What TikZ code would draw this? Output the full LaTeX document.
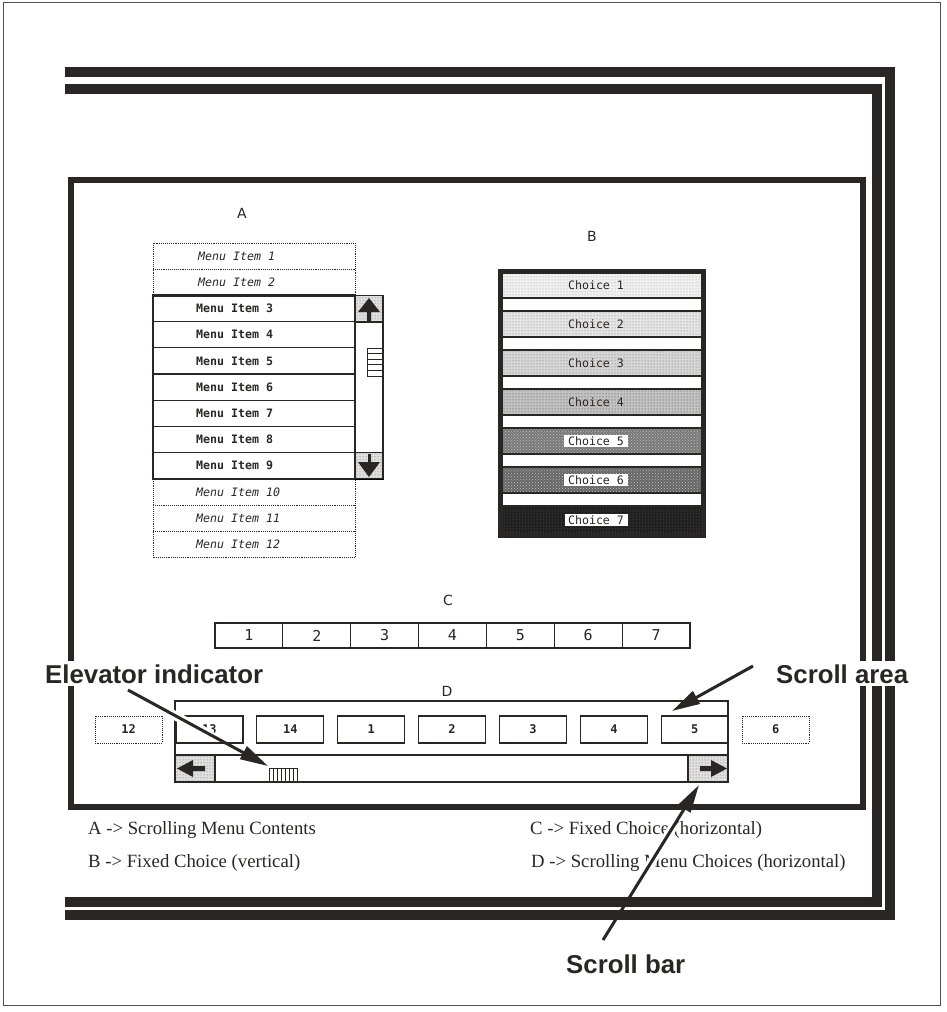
\documentclass[tikz,border=0pt]{standalone}
\usepackage{fontspec}
\setmainfont{Liberation Serif}
\newfontfamily\labsans{Liberation Sans}
\newfontfamily\pixmono{DejaVu Sans Mono}
\newfontfamily\letsans{DejaVu Sans}
\usetikzlibrary{arrows.meta,patterns,calc}
\definecolor{ink}{RGB}{42,38,38}
\begin{document}
\begin{tikzpicture}[x=1pt,y=-1pt,
  bar/.style={ink, line width=10pt, line join=miter},
  thinline/.style={ink, line width=1.2pt},
  thickline/.style={ink, line width=2.4pt},
  dotline/.style={ink, line width=0.9pt, densely dotted},
  stip/.style={fill=black!12, postaction={pattern=dots, pattern color=black!60}},
  annot/.style={ink, line width=3pt, -{Triangle[length=28pt,width=14pt]}},
  halo/.style={white, line width=9pt},
  callout/.style={text=ink, font=\labsans\bfseries\fontsize{25.8}{28}\selectfont, fill=white, inner sep=3pt, anchor=base west},
  legend/.style={text=ink, font=\fontsize{18.7}{20}\selectfont, inner sep=0pt, anchor=base west},
  letter/.style={text=ink, font=\letsans\fontsize{14}{16}\selectfont, inner sep=0pt},
  miroman/.style={text=ink, font=\pixmono\bfseries\fontsize{11.6}{13}\selectfont, inner sep=0pt, anchor=west},
  miital/.style={text=ink, font=\pixmono\itshape\fontsize{11.6}{13}\selectfont, inner sep=0pt, anchor=west},
  choicefont/.style={text=ink, font=\pixmono\fontsize{11.6}{13}\selectfont, inner xsep=4pt, inner ysep=2pt},
  cnum/.style={text=ink, font=\pixmono\fontsize{15}{17}\selectfont, inner sep=0pt},
  dnum/.style={text=ink, font=\pixmono\bfseries\fontsize{12}{14}\selectfont, inner sep=0pt}
]
\useasboundingbox (0,0) rectangle (946,1012);
\fill[white] (0,0) rectangle (946,1012);

% thin outer frame
\draw[ink!80, line width=1pt] (3,2) rectangle (940,1005);

% heavy frame bars
\draw[bar] (65,72) -- (890,72) -- (890,915) -- (65,915);
\draw[bar] (65,89) -- (877,89) -- (877,902) -- (65,902);

% inner window
\draw[ink, line width=6pt] (71,180) rectangle (863,807);

% ---------------- A ----------------
\node[letter] (labA) at (242,213) {A};
\draw[dotline] (153,243) rectangle (355,295.4);
\draw[dotline] (153,269.2) -- (355,269.2);
\draw[dotline] (153,478.8) rectangle (355,557.4);
\draw[dotline] (153,505) -- (355,505);
\draw[dotline] (153,531.2) -- (355,531.2);
\foreach \yy in {321.6,347.8,374,400.2,426.4,452.6}
  \draw[thinline] (153,\yy) -- (355,\yy);
\draw[thickline] (153,295.4) rectangle (355,478.8);
% scroll bar of A
\draw[stip] (355,295.4) rectangle (383,322);
\draw[stip] (355,452.6) rectangle (383,478.8);
\draw[thinline] (355,295.4) rectangle (383,478.8);
\draw[thinline] (355,322) -- (383,322);
\draw[thinline] (355,452.6) -- (383,452.6);
\fill[ink] (369,298) -- (380,312) -- (371,312) -- (371,321) -- (367,321) -- (367,312) -- (358,312) -- cycle;
\fill[ink] (368,453.5) rectangle (370.5,462);
\fill[ink] (358,462) -- (380,462) -- (369,477) -- cycle;
% elevator of A
\draw[ink, line width=1pt, fill=white] (367,348) rectangle (382,376);
\foreach \yy in {353.6,359.2,364.8,370.4}
  \draw[ink, line width=1pt] (367,\yy) -- (382,\yy);
\node[miital]  (mi1)  at (198,256.1) {Menu Item 1};
\node[miital]  (mi2)  at (198,282.3) {Menu Item 2};
\node[miroman] (mi3)  at (196,308.5) {Menu Item 3};
\node[miroman] (mi4)  at (196,334.7) {Menu Item 4};
\node[miroman] (mi5)  at (196,360.9) {Menu Item 5};
\node[miroman] (mi6)  at (196,387.1) {Menu Item 6};
\node[miroman] (mi7)  at (196,413.3) {Menu Item 7};
\node[miroman] (mi8)  at (196,439.5) {Menu Item 8};
\node[miroman] (mi9)  at (196,465.7) {Menu Item 9};
\node[miital]  (mi10) at (196,491.9) {Menu Item 10};
\node[miital]  (mi11) at (196,518.1) {Menu Item 11};
\node[miital]  (mi12) at (196,544.3) {Menu Item 12};

% ---------------- B ----------------
\node[letter] (labB) at (592,236) {B};
\fill[white] (500,271) rectangle (703,535);
\foreach \k/\sh in {1/6,2/10,3/16,4/24,5/52,6/60,7/88}{
  \pgfmathsetmacro{\tp}{272+39*(\k-1)}
  \pgfmathsetmacro{\bt}{ifthenelse(\k==7,535,\tp+26)}
  \fill[black!\sh] (502,\tp) rectangle (701,\bt);
  \draw[ink, line width=1.6pt] (502,\tp) -- (701,\tp);
  \draw[ink, line width=1.6pt] (502,\bt) -- (701,\bt);
}
\foreach \k/\pc in {1/40,2/55,3/60,4/75}{
  \pgfmathsetmacro{\tp}{272+39*(\k-1)}
  \fill[pattern=dots, pattern color=black!\pc] (503,\tp+1.5) rectangle (700,\tp+24.5);
}
\foreach \k in {5,6}{
  \pgfmathsetmacro{\tp}{272+39*(\k-1)}
  \fill[pattern=crosshatch dots, pattern color=black!25] (503,\tp+1.5) rectangle (700,\tp+24.5);
}
\fill[pattern=dots, pattern color=black!55] (503,508) rectangle (700,533);
\draw[ink, line width=5pt] (500,271) rectangle (703,535);
\node[choicefont] (ch1) at (596,285) {Choice 1};
\node[choicefont] (ch2) at (596,324) {Choice 2};
\node[choicefont] (ch3) at (596,363) {Choice 3};
\node[choicefont] (ch4) at (596,402) {Choice 4};
\node[choicefont, fill=white] (ch5) at (596,441) {Choice 5};
\node[choicefont, fill=white] (ch6) at (596,480) {Choice 6};
\node[choicefont, fill=white, draw=ink, line width=0.8pt] (ch7) at (596,520) {Choice 7};

% ---------------- C ----------------
\node[letter] (labC) at (448,600) {C};
\foreach \k in {1,...,6}
  \draw[thinline] ({215+67.857*\k},623) -- ({215+67.857*\k},648);
\draw[thickline] (215,623) rectangle (690,648);
\foreach \k in {1,...,7}
  \node[cnum] (c\k) at ({215+67.857*(\k-0.5)},635.5) {\k};

% ---------------- D ----------------
\node[letter] (labD) at (447,691) {D};
\draw[stip] (175,755) rectangle (215,782);
\draw[stip] (688,755) rectangle (728,782);
\draw[ink, line width=1.6pt] (175,701) rectangle (728,782);
\draw[thickline] (175,755) -- (728,755);
\draw[thinline] (215,755) -- (215,782);
\draw[thinline] (688,755) -- (688,782);
\fill[ink] (177,768.5) -- (193,760) -- (193,766) -- (205,766) -- (205,771) -- (193,771) -- (193,777) -- cycle;
\fill[ink] (727,768.5) -- (711,760) -- (711,766) -- (700,766) -- (700,771) -- (711,771) -- (711,777) -- cycle;
\draw[ink, line width=1pt, fill=white] (269,768) rectangle (297,781);
\foreach \xx in {273,277,281,285,289,293}
  \draw[ink, line width=1pt] (\xx,768) -- (\xx,781);
\foreach \k/\t in {1/13,2/14,3/1,4/2,5/3,6/4,7/5}{
  \draw[ink, line width=1.2pt] ({95+80.9*\k},716) rectangle ({162+80.9*\k},743);
  \node[dnum] (d\k) at ({128.5+80.9*\k},729.5) {\t};
}
\draw[dotline] (95,716) rectangle (162,743);
\node[dnum] (d0) at (128.5,729.5) {12};
\draw[dotline] (742.2,716) rectangle (809.2,743);
\node[dnum] (d8) at (775.7,729.5) {6};

% ---------------- legend ----------------
\node[legend] (legA) at (88,834) {A -> Scrolling Menu Contents};
\node[legend] (legB) at (88,867) {B -> Fixed Choice (vertical)};
\node[legend] (legC) at (530,834) {C -> Fixed Choice (horizontal)};
\node[legend] (legD) at (531,867) {D -> Scrolling Menu Choices (horizontal)};

% ---------------- callouts ----------------
\node[callout] (elevlab) at (42,683) {Elevator indicator};
\node[callout] (arealab) at (773,683) {Scroll area};
\node[callout] (barlab) at (563,973) {Scroll bar};
\coordinate (elevfrom) at (128,690);
\coordinate (elevto) at (268,766);
\coordinate (areafrom) at (753,666);
\coordinate (areato) at (672,711);
\coordinate (barfrom) at (603,940);
\coordinate (barto) at (699,785);
\draw[halo] ($(elevfrom)!0.25!(elevto)$) -- ($(elevfrom)!0.6!(elevto)$);
\draw[halo] ($(barfrom)!0.35!(barto)$) -- ($(barfrom)!0.75!(barto)$);
\draw[annot] (elevfrom) -- (elevto);
\draw[annot] (areafrom) -- (areato);
\draw[annot] (barfrom) -- (barto);
\end{tikzpicture}
\end{document}
